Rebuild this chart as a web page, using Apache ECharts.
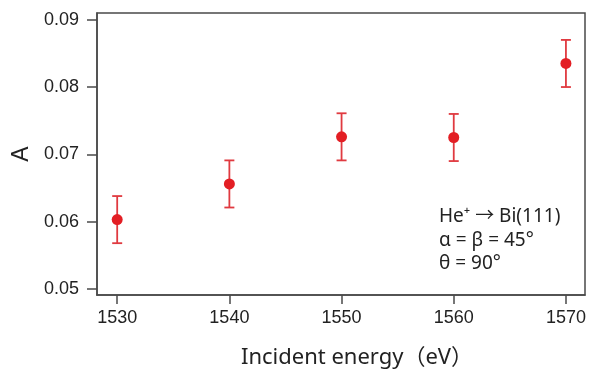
<!DOCTYPE html>
<html>
<head>
<meta charset="utf-8">
<script src="https://cdn.jsdelivr.net/npm/echarts@6/dist/echarts.min.js"></script>
<style>
  html, body { margin: 0; padding: 0; background: #fff; }
  #chart { width: 589px; height: 371px; }
</style>
</head>
<body>
<div id="chart"></div>
<script>
const energies = [1530, 1540, 1550, 1560, 1570];
const asym = [0.0603, 0.0656, 0.0726, 0.0725, 0.0835];
const errors = [0.0035, 0.0035, 0.0035, 0.0035, 0.0035];
const xTicks = [1530, 1540, 1550, 1560, 1570];
const yTicks = [0.05, 0.06, 0.07, 0.08, 0.09];
const noteLines = ['He⁺ → Bi(111)', 'α = β = 45°', 'θ = 90°'];

const chart = echarts.init(document.getElementById('chart'));

const points = energies.map((e, i) => [e, asym[i]]);
const bars = energies.map((e, i) => [e, asym[i] - errors[i], asym[i] + errors[i]]);

const axisColor = '#4a4a4a';
const red = '#e31e24';
const textFont = '"Noto Sans", "Noto Sans CJK JP", sans-serif';

chart.setOption({
  animation: false,
  grid: {
    left: 97, right: 4, top: 13, bottom: 76,
    outerBoundsMode: 'none',
    containLabel: false,
    show: true, borderColor: axisColor, borderWidth: 1.5
  },
  xAxis: {
    type: 'value',
    min: 1528.2, max: 1571.7,
    name: 'Incident energy（eV）',
    nameLocation: 'middle',
    nameGap: 52,
    nameTextStyle: { fontSize: 22, color: '#222', fontFamily: textFont, padding: [0, 0, 0, 32] },
    axisLine: { lineStyle: { color: axisColor, width: 1.5 } },
    axisTick: { show: true, customValues: xTicks, length: 9, lineStyle: { color: axisColor, width: 1.5 } },
    axisLabel: {
      customValues: xTicks, fontSize: 18, color: '#222', fontFamily: 'Liberation Sans', margin: 14,
      formatter: v => String(v)
    },
    splitLine: { show: false }
  },
  yAxis: {
    type: 'value',
    min: 0.0491, max: 0.0910,
    name: 'A',
    nameLocation: 'middle',
    nameGap: 64,
    nameRotate: 90,
    nameTextStyle: { fontSize: 23, color: '#222', fontFamily: 'Liberation Sans' },
    axisLine: { lineStyle: { color: axisColor, width: 1.5 } },
    axisTick: { show: true, customValues: yTicks, length: 10, lineStyle: { color: axisColor, width: 1.5 } },
    axisLabel: {
      customValues: yTicks, fontSize: 18, color: '#222', fontFamily: 'Liberation Sans', margin: 18,
      formatter: v => v.toFixed(2)
    },
    splitLine: { show: false }
  },
  graphic: [{
    type: 'text',
    left: 439, top: 205,
    style: {
      text: noteLines.join('\n'),
      font: '19px ' + textFont,
      lineHeight: 23.5,
      fill: '#222'
    }
  }],
  series: [
    {
      type: 'custom',
      data: bars,
      renderItem: (params, api) => {
        const lo = api.coord([api.value(0), api.value(1)]);
        const hi = api.coord([api.value(0), api.value(2)]);
        const w = 5;
        const style = { stroke: '#e03a40', lineWidth: 1.8 };
        return {
          type: 'group',
          children: [
            { type: 'line', shape: { x1: lo[0], y1: lo[1], x2: hi[0], y2: hi[1] }, style },
            { type: 'line', shape: { x1: lo[0] - w, y1: lo[1], x2: lo[0] + w, y2: lo[1] }, style },
            { type: 'line', shape: { x1: hi[0] - w, y1: hi[1], x2: hi[0] + w, y2: hi[1] }, style }
          ]
        };
      },
      z: 2
    },
    {
      type: 'scatter',
      data: points,
      symbol: 'circle',
      symbolSize: 11,
      itemStyle: { color: red, opacity: 1 },
      z: 3
    }
  ]
});
</script>
</body>
</html>
